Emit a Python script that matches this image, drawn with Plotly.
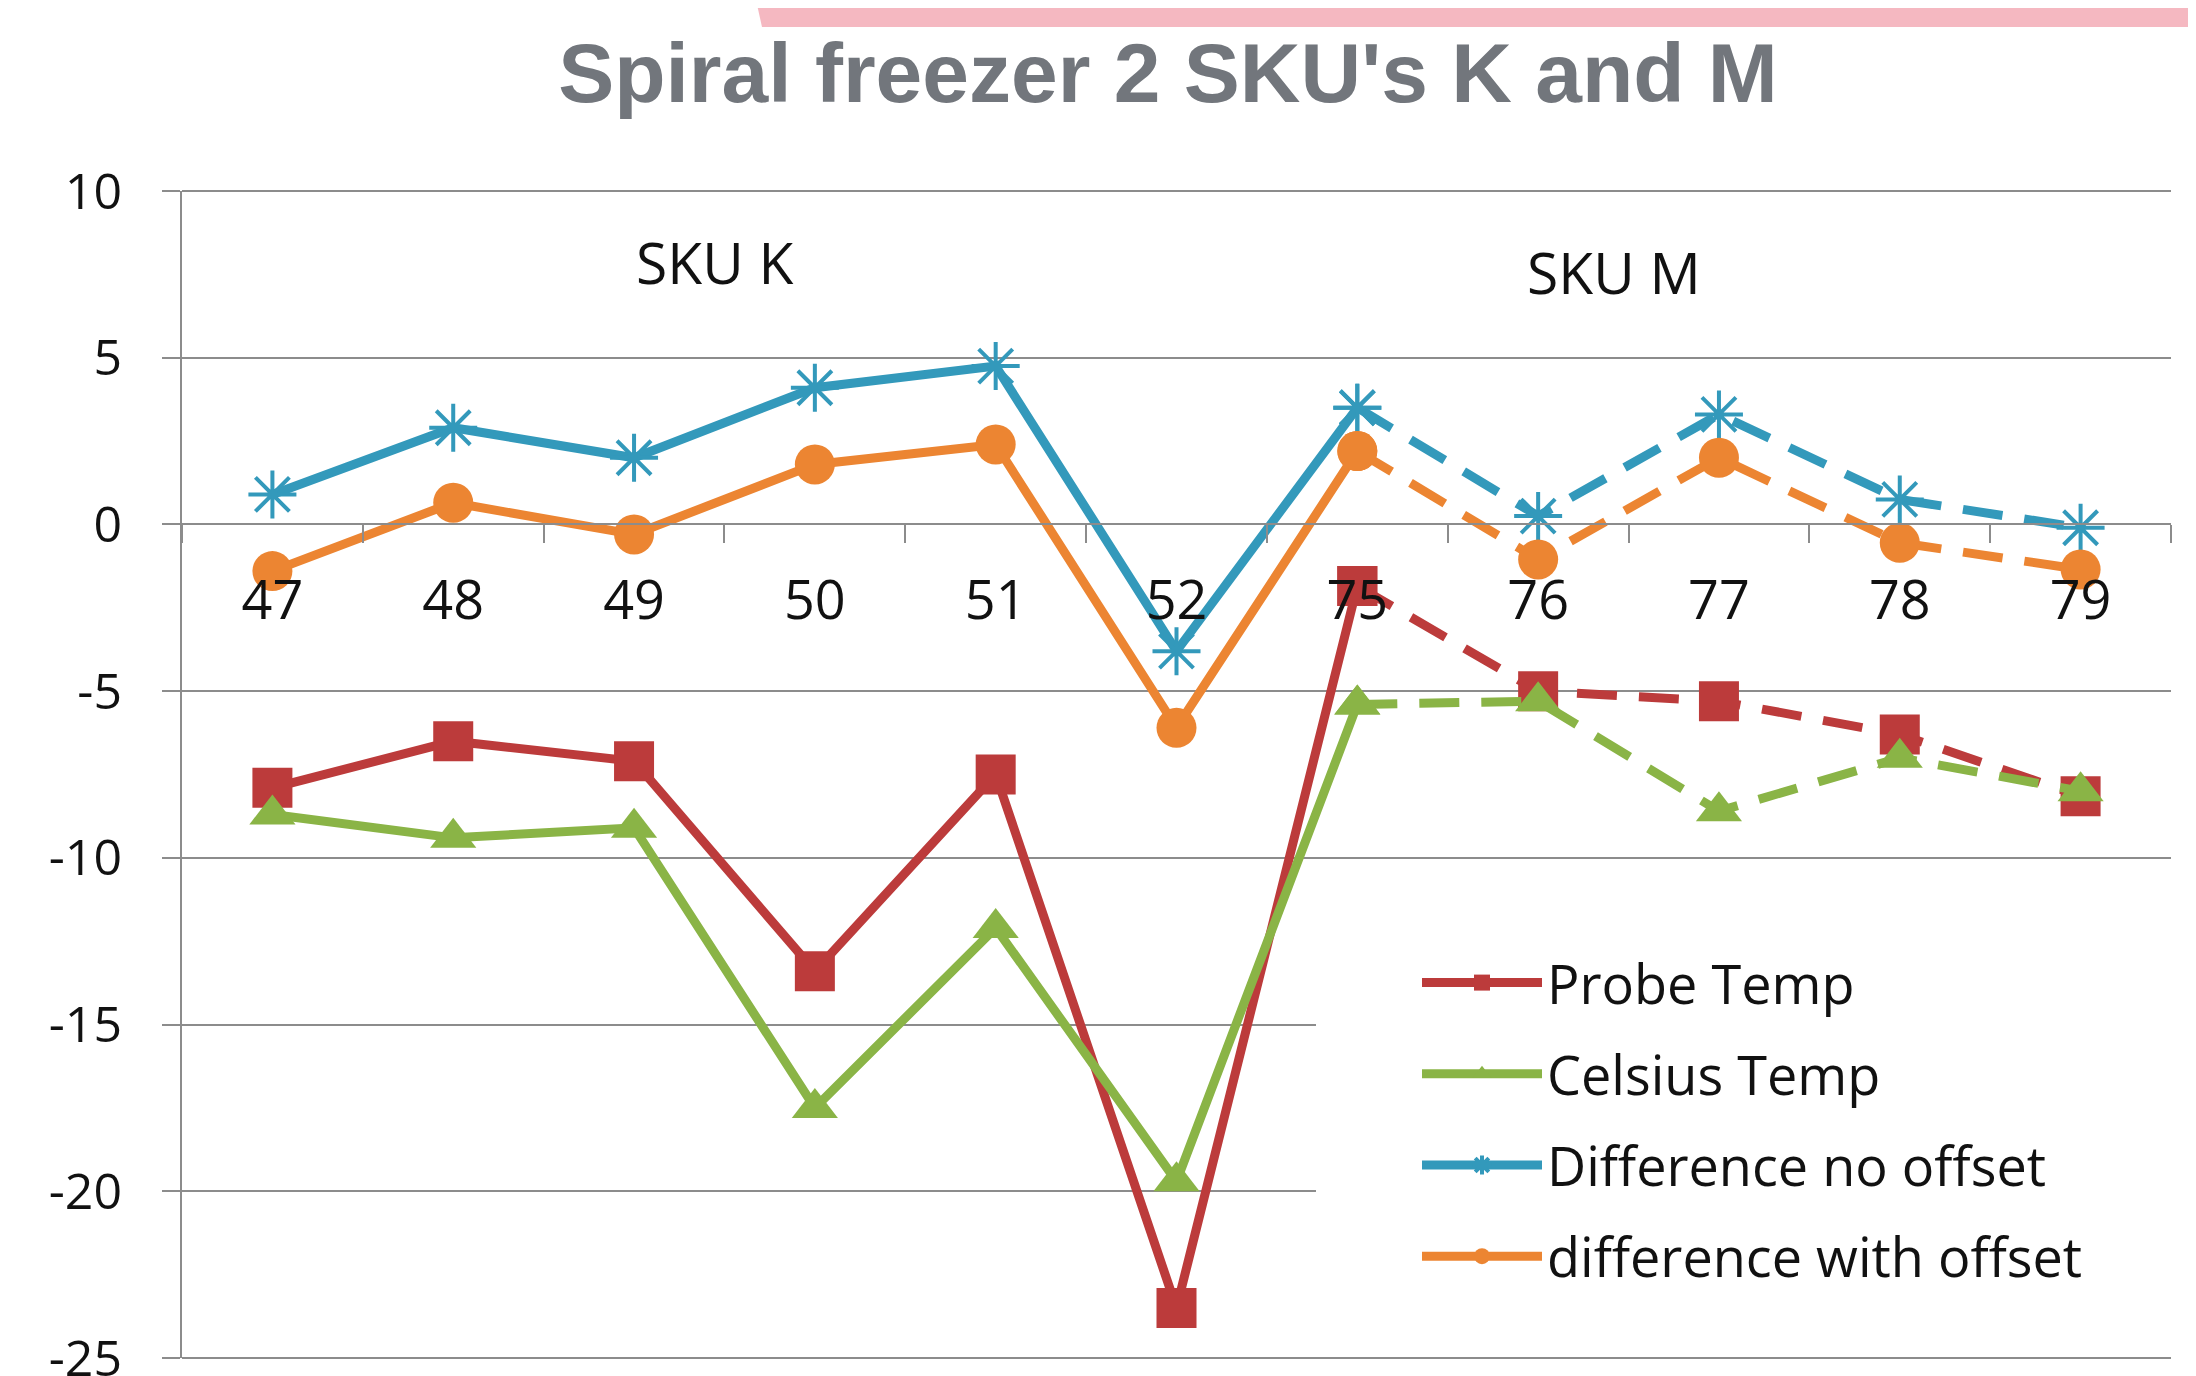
import plotly.graph_objects as go

categories = ["47", "48", "49", "50", "51", "52", "75", "76", "77", "78", "79"]
probe_temp = [-7.9, -6.5, -7.1, -13.4, -7.5, -23.5, -1.85, -5.0, -5.3, -6.3, -8.15]
celsius_temp = [-8.7, -9.4, -9.1, -17.5, -12.1, -19.7, -5.4, -5.3, -8.6, -7.0, -8.0]
diff_no_offset = [0.9, 2.9, 2.0, 4.1, 4.75, -3.8, 3.5, 0.25, 3.3, 0.75, -0.1]
diff_with_offset = [-1.4, 0.65, -0.3, 1.8, 2.4, -6.1, 2.2, -1.05, 2.0, -0.55, -1.35]
series_names = ["Probe Temp", "Celsius Temp", "Difference no offset", "difference with offset"]
y_tickvals = [10, 5, 0, -5, -10, -15, -20, -25]
y_ticktext = ["10", "5", "0", "-5", "-10", "-15", "-20", "-25"]
sku_labels = ["SKU K", "SKU M"]
split = 6  # index of "75": SKU K solid up to here, SKU M dashed from here

# page pixel layout (the browser body adds an 8px margin)
OFF = 8
PAGE_W, PAGE_H = 2196, 1376
W, H = PAGE_W - OFF, PAGE_H - OFF
PLOT_L, PLOT_R, PLOT_T, PLOT_B = 182, 2171, 191, 1358  # page coords
L, R, T, B = PLOT_L - OFF, PAGE_W - PLOT_R, PLOT_T - OFF, PAGE_H - PLOT_B
PW, PH = W - L - R, H - T - B

Y_MIN, Y_MAX = -25, 10
Y_SPAN = Y_MAX - Y_MIN


def px(xp):
    return (xp - OFF - L) / PW


def py(yp):
    return (H - B - (yp - OFF)) / PH


styles = [
    dict(color="#BC3B3B", symbol="square", size=40),
    dict(color="#8AB446", symbol="triangle-up", size=40),
    dict(color="#3399BB", symbol="asterisk-open", size=40),
    dict(color="#EC8532", symbol="circle", size=40),
]
data = [probe_temp, celsius_temp, diff_no_offset, diff_with_offset]

fig = go.Figure()
for name, vals, st in zip(series_names, data, styles):
    marker = dict(symbol=st["symbol"], size=st["size"], color=st["color"])
    if st["symbol"] == "asterisk-open":
        marker["line"] = dict(color=st["color"], width=4)
    fig.add_trace(go.Scatter(
        x=categories[:split + 1], y=vals[:split + 1], name=name,
        legendgroup=name, mode="lines+markers",
        line=dict(color=st["color"], width=9), marker=marker,
    ))
    fig.add_trace(go.Scatter(
        x=categories[split:], y=vals[split:], name=name,
        legendgroup=name, showlegend=False, mode="lines+markers",
        line=dict(color=st["color"], width=9, dash="40px,22px"), marker=marker,
    ))

# legend backdrop region (hides gridlines behind the legend), in data units
cat_w = PW / len(categories)
unit_h = PH / Y_SPAN
bx0 = (1316 - PLOT_L) / cat_w - 0.5
by0 = Y_MAX - (1320 - PLOT_T) / unit_h
by1 = Y_MAX - (905 - PLOT_T) / unit_h

grid = "#8C8C8C"
txt = "#111111"
edge_line = dict(color=grid, width=2)
fig.update_layout(
    width=W, height=H,
    margin=dict(l=L, r=R, t=T, b=B, autoexpand=False),
    paper_bgcolor="white", plot_bgcolor="white",
    title=dict(text="<b>Spiral freezer 2 SKU's K and M</b>",
               font=dict(family="Liberation Sans", size=84, color="#72767C"),
               x=(1168 - OFF) / W, xref="container", xanchor="center",
               y=1 - (73 - OFF) / H, yref="container", yanchor="middle"),
    xaxis=dict(type="category", categoryorder="array", categoryarray=categories,
               range=[-0.5, 10.5], anchor="free", position=(0 - Y_MIN) / Y_SPAN,
               showgrid=False, zeroline=False, showline=True, linecolor=grid, linewidth=2,
               ticks="outside", tickson="boundaries", ticklen=18, tickcolor=grid, tickwidth=2,
               tickfont=dict(family="Open Sans", size=54, color=txt),
               ticklabelstandoff=29),
    yaxis=dict(range=[Y_MIN, Y_MAX], tickvals=y_tickvals, ticktext=y_ticktext,
               showgrid=True, gridcolor=grid, gridwidth=2,
               zeroline=False, showline=True, linecolor=grid, linewidth=2,
               ticks="outside", ticklen=18, tickcolor=grid, tickwidth=2,
               tickfont=dict(family="Open Sans", size=50, color=txt),
               ticklabelstandoff=30, ticklabeloverflow="allow"),
    legend=dict(x=px(1417), y=py(941), xanchor="left", yanchor="top",
                bgcolor="rgba(0,0,0,0)", borderwidth=0,
                font=dict(family="Open Sans", size=54, color=txt),
                itemwidth=120, traceorder="grouped", tracegroupgap=18),
    showlegend=True,
    shapes=[
        dict(type="path", xref="paper", yref="paper",
             path=f"M{px(756)},{py(0)} L{px(PAGE_W)},{py(0)} L{px(PAGE_W)},{py(27)} L{px(762)},{py(27)} Z",
             fillcolor="#F5B8C1", line=dict(width=0), layer="above"),
        dict(type="rect", xref="x", yref="y",
             x0=bx0, x1=10.5, y0=by0, y1=by1,
             fillcolor="white", line=dict(width=0), layer="between"),
        # gridlines at the top (10) and bottom (-25) edges of the plot area
        dict(type="line", xref="paper", yref="paper", x0=0, x1=1, y0=1, y1=1,
             line=edge_line, layer="above"),
        dict(type="line", xref="paper", yref="paper", x0=0, x1=1, y0=0, y1=0,
             line=edge_line, layer="above"),
    ],
    annotations=[
        dict(text=sku_labels[0], xref="paper", yref="paper", x=px(715), y=py(262),
             xanchor="center", yanchor="middle", showarrow=False,
             font=dict(family="Open Sans", size=57, color=txt)),
        dict(text=sku_labels[1], xref="paper", yref="paper", x=px(1614), y=py(272),
             xanchor="center", yanchor="middle", showarrow=False,
             font=dict(family="Open Sans", size=57, color=txt)),
    ],
)

fig.write_html("out.html")
